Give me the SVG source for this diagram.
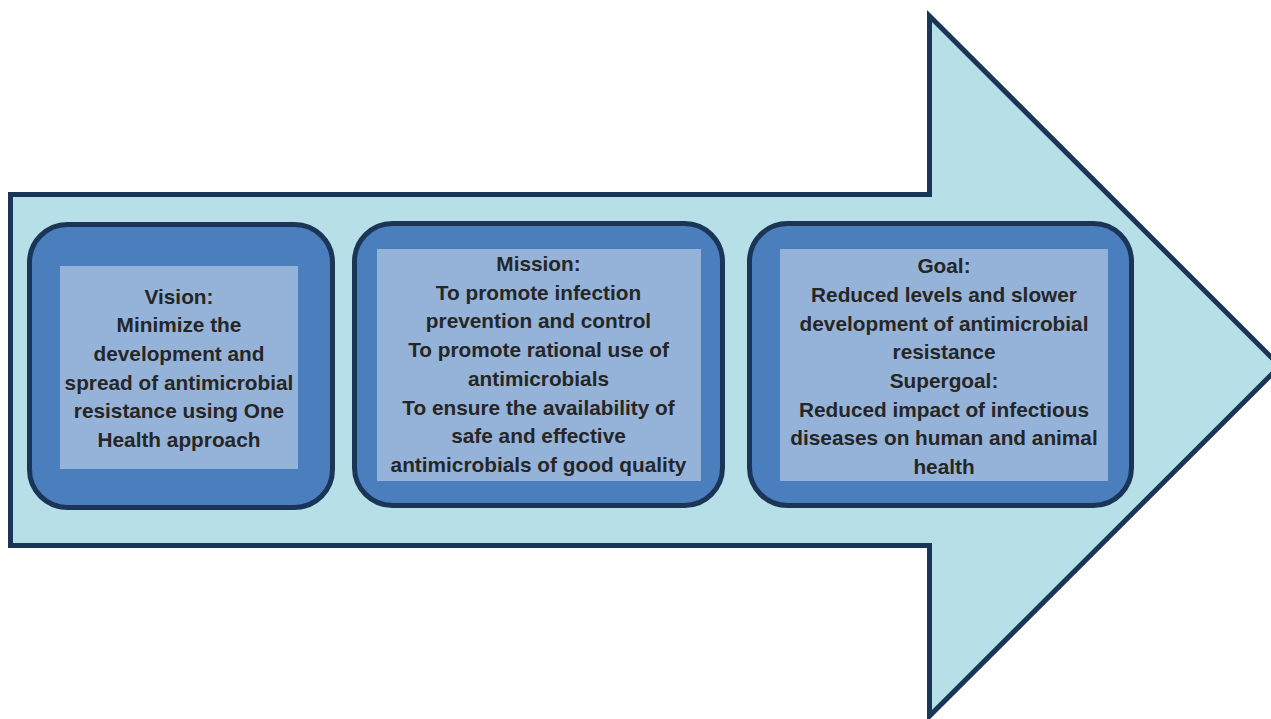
<svg xmlns="http://www.w3.org/2000/svg" width="1271" height="719" viewBox="0 0 1271 719">
  <style>
    .arrow { fill: #b7dfe8; stroke: #1b3556; stroke-width: 5; stroke-linejoin: miter; }
    .card { fill: #4a7ebd; stroke: #1b3556; stroke-width: 5; }
    .panel { fill: #95b3d8; }
    .label { font-family: "Liberation Sans", Arial, sans-serif; font-weight: bold; font-size: 20.8px; fill: #262626; text-anchor: middle; }
  </style>
  <rect width="1271" height="719" fill="#ffffff"/>

  <!-- Large background arrow -->
  <g id="arrow">
    <path class="arrow" d="M10.5,194.5 H929.5 V16 L1280,366 L929.5,716 V545.5 H10.5 Z"/>
  </g>

  <!-- Vision -->
  <g id="vision">
    <rect class="card" x="29.5" y="224.5" width="303" height="283" rx="38" ry="38"/>
    <rect class="panel" x="60" y="266" width="238" height="203"/>
    <text class="label" x="179" y="304">Vision:</text>
    <text class="label" x="179" y="332">Minimize the</text>
    <text class="label" x="179" y="361">development and</text>
    <text class="label" x="179" y="390">spread of antimicrobial</text>
    <text class="label" x="179" y="418">resistance using One</text>
    <text class="label" x="179" y="447">Health approach</text>
  </g>

  <!-- Mission -->
  <g id="mission">
    <rect class="card" x="354.5" y="223.5" width="368" height="282" rx="38" ry="38"/>
    <rect class="panel" x="377" y="249" width="324" height="232"/>
    <text class="label" x="538.5" y="271">Mission:</text>
    <text class="label" x="538.5" y="300">To promote infection</text>
    <text class="label" x="538.5" y="328">prevention and control</text>
    <text class="label" x="538.5" y="357">To promote rational use of</text>
    <text class="label" x="538.5" y="386">antimicrobials</text>
    <text class="label" x="538.5" y="415">To ensure the availability of</text>
    <text class="label" x="538.5" y="443">safe and effective</text>
    <text class="label" x="538.5" y="472">antimicrobials of good quality</text>
  </g>

  <!-- Goal / Supergoal -->
  <g id="goal">
    <rect class="card" x="749.5" y="223.5" width="382" height="282" rx="38" ry="38"/>
    <rect class="panel" x="780" y="249" width="328" height="232"/>
    <text class="label" x="944" y="273">Goal:</text>
    <text class="label" x="944" y="302">Reduced levels and slower</text>
    <text class="label" x="944" y="331">development of antimicrobial</text>
    <text class="label" x="944" y="359">resistance</text>
    <text class="label" x="944" y="388">Supergoal:</text>
    <text class="label" x="944" y="417">Reduced impact of infectious</text>
    <text class="label" x="944" y="445">diseases on human and animal</text>
    <text class="label" x="944" y="474">health</text>
  </g>

  <!-- No connectors: the stages sit inside the arrow -->
  <g id="connectors"/>
</svg>
